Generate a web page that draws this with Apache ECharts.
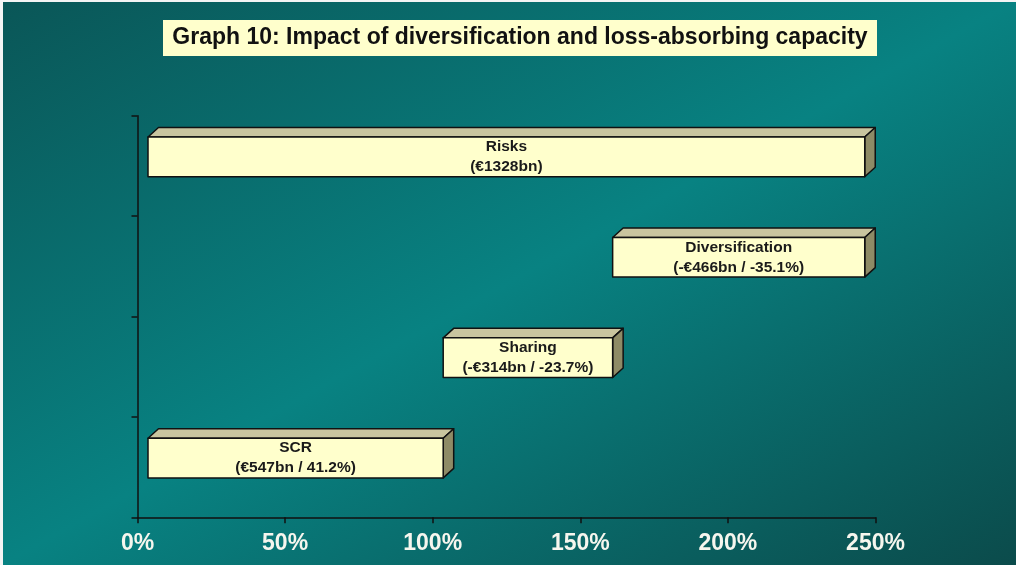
<!DOCTYPE html>
<html>
<head>
<meta charset="utf-8">
<script src="https://cdn.jsdelivr.net/npm/echarts@6/dist/echarts.min.js"></script>
<style>
  html, body { margin: 0; padding: 0; }
  #chart { width: 1016px; height: 565px; }
</style>
</head>
<body>
<div id="chart"></div>
<script>
// categories bottom -> top
const categories = ['SCR', 'Sharing', 'Diversification', 'Risks'];
// bar extents in % of SCR (axis units)
const barStart = [0, 100, 157.4, 0];
const barEnd = [100, 157.4, 242.8, 242.8];
const barDetail = ['(€547bn / 41.2%)', '(-€314bn / -23.7%)', '(-€466bn / -35.1%)', '(€1328bn)'];
const xTicks = [0, 50, 100, 150, 200, 250];

const chart = echarts.init(document.getElementById('chart'));

const FONT = '"Liberation Sans", Arial, sans-serif';

function renderBar(params, api) {
  const ci = api.value(2);
  const p0 = api.coord([api.value(0), ci]);
  const p1 = api.coord([api.value(1), ci]);
  const band = api.size([0, 1])[1];
  const offX = 10.5;
  const dx = 10.5, dy = -9.5;
  const faceH = band * 0.395;
  const cy = p0[1] - band * 0.09;
  const x0 = p0[0] + offX, x1 = p1[0] + offX;
  const top = cy - faceH / 2, bot = cy + faceH / 2;
  const line = { stroke: '#111', lineWidth: 1.5, lineJoin: 'round' };
  return {
    type: 'group',
    children: [
      {
        type: 'polygon',
        shape: { points: [[x0, top], [x1, top], [x1 + dx, top + dy], [x0 + dx, top + dy]] },
        style: Object.assign({ fill: '#c9c59f' }, line)
      },
      {
        type: 'polygon',
        shape: { points: [[x1, top], [x1 + dx, top + dy], [x1 + dx, bot + dy], [x1, bot]] },
        style: Object.assign({ fill: '#8e8b66' }, line)
      },
      {
        type: 'rect',
        shape: { x: x0, y: top, width: x1 - x0, height: bot - top },
        style: Object.assign({ fill: '#ffffcc' }, line)
      },
      {
        type: 'text',
        x: (x0 + x1) / 2,
        y: cy,
        style: {
          text: categories[ci] + '\n' + barDetail[ci],
          font: 'bold 15.5px ' + FONT,
          fill: '#1a1a1a',
          align: 'center',
          verticalAlign: 'middle',
          lineHeight: 20
        }
      }
    ]
  };
}

const option = {
  animation: false,
  backgroundColor: {
    type: 'linear', global: true,
    x: 0, y: 0, x2: 480, y2: 864,
    colorStops: [
      { offset: 0, color: '#0a5657' },
      { offset: 0.5, color: '#088282' },
      { offset: 1, color: '#0b4b4b' }
    ]
  },
  graphic: [
    { type: 'rect', left: 0, top: 0, shape: { width: 3, height: 565 }, style: { fill: '#f4f4f4' } },
    { type: 'rect', left: 0, top: 0, shape: { width: 1016, height: 2 }, style: { fill: '#f4f4f4' } },
    {
      type: 'rect',
      shape: { x: 163, y: 20, width: 714, height: 36 },
      style: { fill: '#ffffcc' }
    },
    {
      type: 'text',
      x: 520, y: 38,
      style: {
        text: 'Graph 10: Impact of diversification and loss-absorbing capacity',
        font: 'bold 23px ' + FONT,
        fill: '#111',
        align: 'center',
        verticalAlign: 'middle'
      }
    }
  ],
  grid: { left: 137.5, right: 140.5, top: 115.7, bottom: 47.7 },
  xAxis: {
    type: 'value',
    min: 0, max: 250, interval: 50,
    axisLine: { show: true, lineStyle: { color: '#111', width: 1.5 } },
    axisTick: { show: true, length: 6, lineStyle: { color: '#111', width: 1.5 } },
    splitLine: { show: false },
    axisLabel: {
      color: '#f6f6ee',
      fontFamily: FONT,
      fontWeight: 'bold',
      fontSize: 23,
      margin: 15,
      formatter: v => (xTicks.indexOf(v) >= 0 ? v + '%' : '')
    }
  },
  yAxis: {
    type: 'category',
    data: categories,
    axisLine: { show: true, lineStyle: { color: '#111', width: 1.5 } },
    axisTick: { show: true, length: 6, lineStyle: { color: '#111', width: 1.5 } },
    axisLabel: { show: false },
    splitLine: { show: false }
  },
  series: [{
    type: 'custom',
    renderItem: renderBar,
    encode: { x: [0, 1], y: 2 },
    data: categories.map((c, i) => [barStart[i], barEnd[i], i]),
    clip: false
  }]
};

chart.setOption(option);
</script>
</body>
</html>
